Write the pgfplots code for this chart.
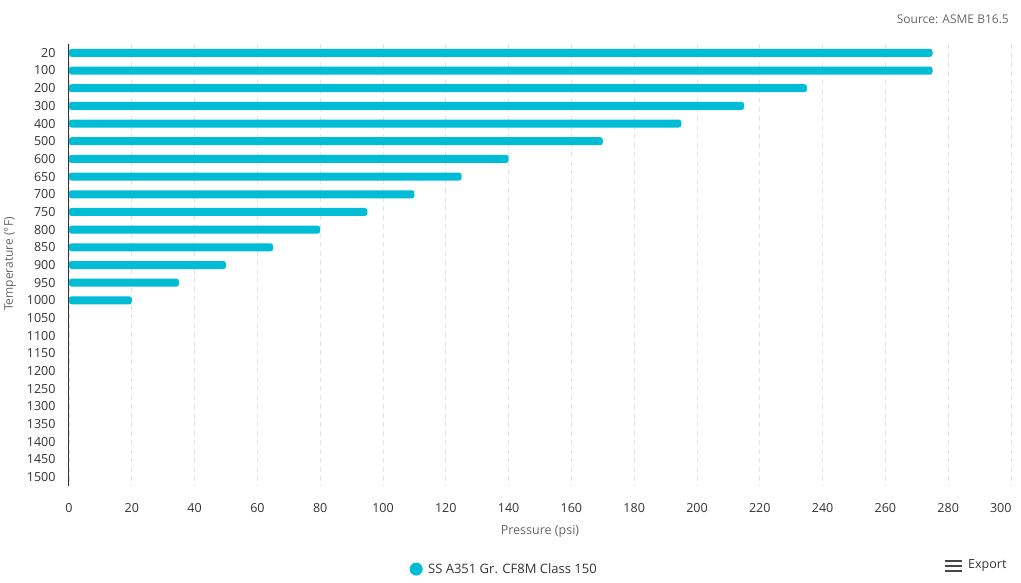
\documentclass[border=0pt]{standalone}
\usepackage{fontspec}
\setmainfont{Open Sans}
\usepackage{pgfplots}
\pgfplotsset{compat=1.18}
\definecolor{barcol}{HTML}{00BCD4}
\definecolor{ticktxt}{HTML}{333333}
\definecolor{titletxt}{HTML}{666666}
\definecolor{gridcol}{HTML}{E3E3E3}
\begin{document}
\begin{tikzpicture}[x=1pt,y=1pt]
\useasboundingbox (0,0) rectangle (1021,582);
\begin{axis}[
at={(69pt,96pt)}, anchor=south west,
scale only axis,
width=942pt, height=442pt,
xbar, bar width=8pt,
y dir=reverse,
xmin=0, xmax=300,
ymin=-0.5, ymax=24.5,
xtick={0,20,...,300},
xticklabels={0,20,40,60,80,100,120,140,160,180,200,220,240,260,280,{}},
extra x ticks={300},
extra x tick labels={300},
extra x tick style={grid=none, xticklabel style={anchor=north east, xshift=4pt}},
ytick={0,...,24},
yticklabels={20,100,200,300,400,500,600,650,700,750,800,850,900,950,1000,1050,1100,1150,1200,1250,1300,1350,1400,1450,1500},
/pgf/number format/assume math mode=true,
tick style={draw=none},
major tick length=0pt,
xticklabel style={font=\fontsize{12.5}{14}\selectfont, text=ticktxt, yshift=-14pt},
yticklabel style={font=\fontsize{12.5}{14}\selectfont, text=ticktxt, xshift=-10pt},
axis x line*=bottom, axis y line*=left,
x axis line style={draw=none},
y axis line style={draw=ticktxt, line width=1pt},
xmajorgrids,
major x grid style={gridcol, line width=0.8pt, dash pattern=on 5pt off 4pt},
legend style={at={(0.462,-0.188)}, anchor=center, draw=none, fill=none,
  font=\fontsize{13}{15}\selectfont, text=ticktxt, legend cell align=left},
legend image code/.code={\fill[barcol] (0pt,0pt) circle (6.5pt); \path (10pt,0pt);},
]
\addplot[fill=barcol, draw=none, rounded corners=2.5pt] coordinates {
(275,0) (275,1) (235,2) (215,3) (195,4) (170,5) (140,6) (125,7)
(110,8) (95,9) (80,10) (65,11) (50,12) (35,13) (20,14)
};
\addlegendentry{SS A351 Gr. CF8M Class 150}
\end{axis}
\node[anchor=center, rotate=90, text=titletxt, font=\fontsize{12}{14}\selectfont] at (10,318) {Temperature (°F)};
\node[anchor=center, text=titletxt, font=\fontsize{12.5}{14}\selectfont] at (540,51) {Pressure (psi)};
\node[anchor=east, inner sep=0pt, text=titletxt, font=\fontsize{12}{14}\selectfont] at (1009,563) {Source: ASME B16.5};
\draw[ticktxt!90, line width=2.4pt] (945,21) -- (962,21) (945,16) -- (962,16) (945,11) -- (962,11);
\node[anchor=west, inner sep=0pt, text=ticktxt, font=\fontsize{12.5}{14}\selectfont] at (968,16) {Export};
\end{tikzpicture}
\end{document}
